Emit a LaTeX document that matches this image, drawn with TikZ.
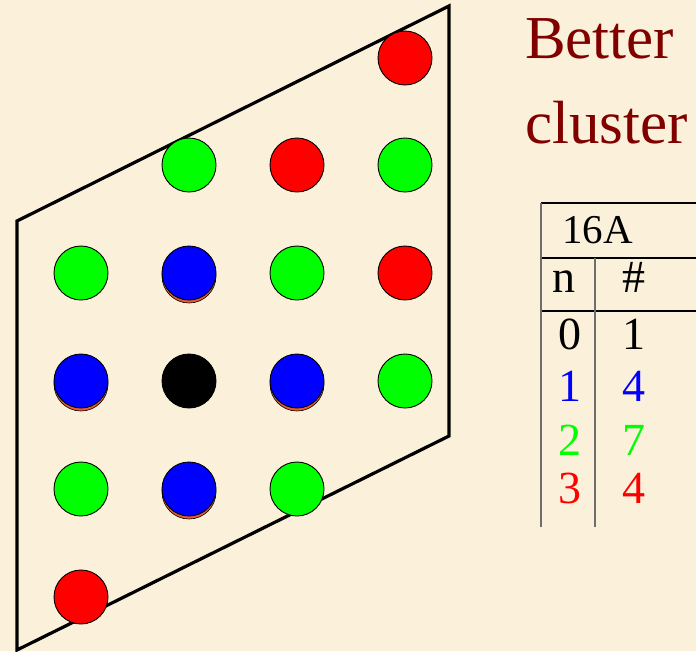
\documentclass[tikz,border=0pt]{standalone}
\usepackage{fontspec}
\setmainfont{Liberation Serif}
\definecolor{bg}{RGB}{251,241,218}
\definecolor{titlered}{RGB}{128,0,0}
\definecolor{dotgreen}{RGB}{0,255,0}
\definecolor{dotblue}{RGB}{0,0,255}
\definecolor{dotred}{RGB}{255,0,0}
\definecolor{shadoworange}{RGB}{230,90,50}
\definecolor{rulegray}{RGB}{110,110,110}
\begin{document}
\begin{tikzpicture}[x=1pt,y=-1pt,
  dot/.style={circle,draw=black,line width=0.9pt,minimum size=54pt,inner sep=0pt},
  gdot/.style={dot,fill=dotgreen},
  rdot/.style={dot,fill=dotred},
  kdot/.style={dot,fill=black},
  bdot/.style={dot,fill=dotblue},
  shad/.style={circle,fill=shadoworange,draw=black,line width=0.6pt,minimum size=54pt,inner sep=0pt},
  frame/.style={line width=3.2pt,line join=miter},
  title/.style={anchor=base west,text=titlered,font=\fontsize{61}{70}\selectfont,inner sep=0pt},
  cell/.style={anchor=base,font=\fontsize{46}{54}\selectfont,inner sep=0pt},
  hrule/.style={line width=1.3pt,black},
  vrule/.style={line width=1.6pt,rulegray}
]
\fill[bg] (0,0) rectangle (696,651);
\useasboundingbox (0,0) rectangle (696,651);

% parallelogram
\coordinate (tl) at (17,221);
\coordinate (bl) at (17,650);
\coordinate (tr) at (449,6);
\coordinate (br) at (449,436);
\draw[frame] (bl) -- (tl) -- (tr) -- (br) -- cycle;

% shadows of blue dots
\foreach \x/\y in {189/273, 81/381, 297/381, 189/489}
  \node[shad] at (\x,\y+3) {};

% dots
\node[rdot] (r1) at (405,58) {};
\node[gdot] (g1) at (189,165) {};
\node[rdot] (r2) at (297,165) {};
\node[gdot] (g2) at (405,165) {};
\node[gdot] (g3) at (81,273) {};
\node[bdot] (b1) at (189,273) {};
\node[gdot] (g4) at (297,273) {};
\node[rdot] (r3) at (405,273) {};
\node[bdot] (b2) at (81,381) {};
\node[kdot] (k0) at (189,381) {};
\node[bdot] (b3) at (297,381) {};
\node[gdot] (g5) at (405,381) {};
\node[gdot] (g6) at (81,489) {};
\node[bdot] (b4) at (189,489) {};
\node[gdot] (g7) at (297,489) {};
\node[rdot] (r4) at (81,597) {};

% title
\node[title] (t1) at (525,58) {Better};
\node[title] (t2) at (525,143) {cluster};

% table
\draw[hrule] (541,203) -- (696,203);
\draw[hrule] (541,258) -- (696,258);
\draw[hrule] (541,311) -- (696,311);
\draw[vrule] (541,203) -- (541,527);
\draw[vrule] (595,258) -- (595,527);
\node[cell,anchor=base west,font=\fontsize{41}{48}\selectfont] (h16) at (562,243) {16A};
\node[cell] (hn) at (564,292) {n};
\node[cell] (hh) at (634,292) {\#};
\node[cell] (n0) at (570,349) {0};
\node[cell] (c0) at (634,349) {1};
\node[cell,text=dotblue] (n1) at (570,401) {1};
\node[cell,text=dotblue] (c1) at (634,401) {4};
\node[cell,text=dotgreen] (n2) at (570,455) {2};
\node[cell,text=dotgreen] (c2) at (634,455) {7};
\node[cell,text=dotred] (n3) at (570,503) {3};
\node[cell,text=dotred] (c3) at (634,503) {4};
\end{tikzpicture}
\end{document}
